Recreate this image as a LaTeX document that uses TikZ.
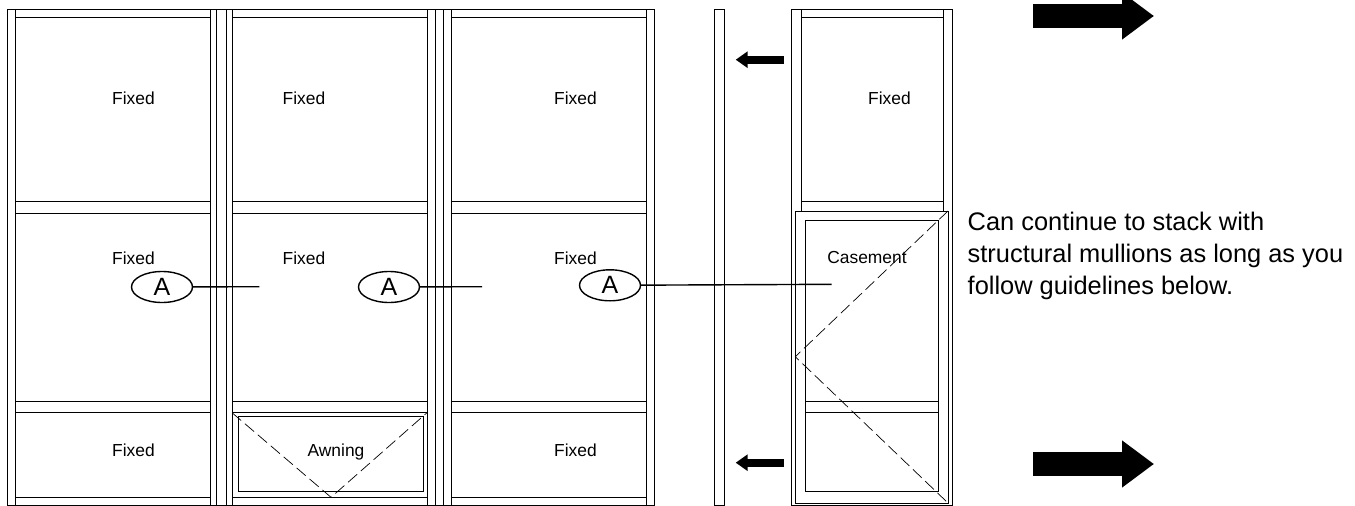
\documentclass[tikz,border=0pt]{standalone}
\usepackage{fontspec}
\setmainfont{Liberation Sans}
\usetikzlibrary{arrows.meta, shapes.geometric}
\tikzset{
    frameline/.style={draw=black, line width=0.8pt},
    tagline/.style={draw=black, line width=1.4pt},
    swingline/.style={draw=black, line width=0.7pt, dash pattern=on 12pt off 5pt},
    sashlabel/.style={font=\fontsize{17.4}{20}\selectfont, inner sep=0pt, anchor=base},
    tagmark/.style={ellipse, draw=black, line width=1.4pt, minimum width=61pt, minimum height=31pt, inner sep=0pt, font=\fontsize{25}{28}\selectfont},
    bigarrow/.style={line width=24pt, -{Triangle[length=32pt, width=45pt]}},
    smallarrow/.style={line width=8pt, -{Triangle[length=12pt, width=16pt]}}
}

\begin{document}
\begin{tikzpicture}[x=1pt, y=-1pt]
    \useasboundingbox (0,0) rectangle (1355,506);
    \clip (0,0) rectangle (1355,506);

    % Frames, left elevation
    \draw[frameline] (7.5,9.5) rectangle (654.5,505);
    \foreach \xpos in {15.5, 210, 216.5, 226.5, 232, 427, 435, 443, 451.5, 646.5}
        \draw[frameline] (\xpos,9.5) -- (\xpos,505);
    \foreach \ypos in {17, 201.5, 213, 401.5, 412.7, 497.3} {
        \draw[frameline] (15.5,\ypos) -- (210,\ypos);
        \draw[frameline] (232,\ypos) -- (427,\ypos);
        \draw[frameline] (451.5,\ypos) -- (646.5,\ypos);
    }

    % Awning sash
    \draw[frameline] (238.3,416.7) rectangle (423.3,491.3);
    \coordinate (awnTL) at (232,412.7);
    \coordinate (awnTR) at (427,412.7);
    \coordinate (awnB) at (331,497.3);
    \draw[swingline] (awnTL) -- (awnB) -- (awnTR);

    % Mullion strip and right elevation
    \draw[frameline] (714.3,9.5) rectangle (724.7,505);
    \draw[frameline] (791,9.5) rectangle (952,505);
    \draw[frameline] (801,9.5) -- (801,211);
    \draw[frameline] (943.7,9.5) -- (943.7,211);
    \draw[frameline] (801,17) -- (943.7,17);
    \draw[frameline] (801,201.5) -- (943.7,201.5);

    % Casement sash
    \draw[frameline] (795.3,211) rectangle (948,503);
    \draw[frameline] (805,220.3) rectangle (938,491.7);
    \draw[frameline] (805,401.3) -- (938,401.3);
    \draw[frameline] (805,412.3) -- (938,412.3);
    \coordinate (casTR) at (948,211);
    \coordinate (casBR) at (948,503);
    \coordinate (casL) at (795.3,356.7);
    \draw[swingline] (casTR) -- (casL) -- (casBR);

    % Labels
    \node[sashlabel] (fixA) at (133.5,104) {Fixed};
    \node[sashlabel] (fixB) at (304,104) {Fixed};
    \node[sashlabel] (fixC) at (575.5,104) {Fixed};
    \node[sashlabel] (fixD) at (889.5,104) {Fixed};
    \node[sashlabel] (fixE) at (133.5,264) {Fixed};
    \node[sashlabel] (fixF) at (304,264) {Fixed};
    \node[sashlabel] (fixG) at (575.5,264) {Fixed};
    \node[sashlabel] (casement) at (867,263.5) {Casement};
    \node[sashlabel] (fixH) at (133.5,456) {Fixed};
    \node[sashlabel] (awning) at (336,456.5) {Awning};
    \node[sashlabel] (fixI) at (575.5,456) {Fixed};

    \node[anchor=base west, align=left, inner sep=0pt, font=\fontsize{25.4}{32}\selectfont] (note) at (967.5,294.7)
        {Can continue to stack with\\structural mullions as long as you\\follow guidelines below.};

    % Section marks
    \node[tagmark] (tagA) at (162,287) {A};
    \node[tagmark] (tagB) at (389,287) {A};
    \node[tagmark] (tagC) at (610,285.3) {A};
    \coordinate (endA) at (259.3,286.7);
    \coordinate (endB) at (482,286.7);
    \coordinate (endC) at (831.7,284.3);
    \draw[tagline] (tagA) -- (endA);
    \draw[tagline] (tagB) -- (endB);
    \draw[tagline] (tagC) -- (endC);

    % Arrows
    \coordinate (bigTopS) at (1033.3,16);
    \coordinate (bigTopE) at (1154,16);
    \coordinate (bigLowS) at (1033.3,464);
    \coordinate (bigLowE) at (1154,464);
    \draw[bigarrow] (bigTopS) -- (bigTopE);
    \draw[bigarrow] (bigLowS) -- (bigLowE);
    \coordinate (smallTopS) at (784,59.7);
    \coordinate (smallTopE) at (735.7,59.7);
    \coordinate (smallLowS) at (784,462.7);
    \coordinate (smallLowE) at (735.7,462.7);
    \draw[smallarrow] (smallTopS) -- (smallTopE);
    \draw[smallarrow] (smallLowS) -- (smallLowE);
\end{tikzpicture}
\end{document}
